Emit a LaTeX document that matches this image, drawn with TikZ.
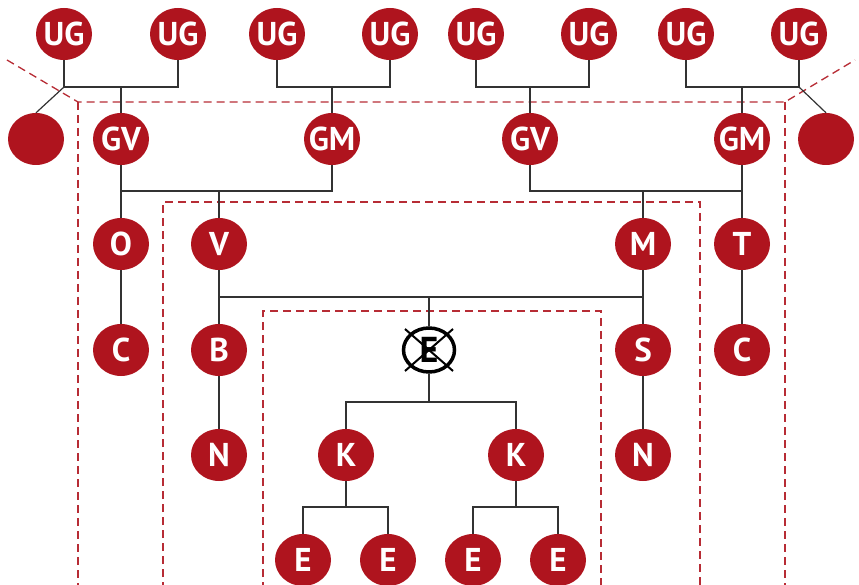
\documentclass[tikz,border=0pt]{standalone}
\usepackage{fontspec}
\setmainfont{PT Sans}
\usetikzlibrary{shapes.geometric}
\definecolor{kred}{RGB}{175,20,30}
\definecolor{kline}{RGB}{50,50,50}
\tikzset{
  x=1pt,y=-1pt,
  fixw/.style={execute at begin node={\hbox to 0pt\bgroup\hss},execute at end node={\hss\egroup}},
  pers/.style={ellipse,fill=kred,minimum width=56pt,minimum height=52pt,inner sep=0pt,
    text=white,font=\fontsize{33}{33}\selectfont\bfseries,fixw},
  conn/.style={draw=kline,line width=1.2pt},
  dline/.style={draw=kred!90!white,line width=1.3pt,dash pattern=on 8pt off 5pt},
  xcirc/.style={ellipse,draw=black,line width=3.5pt,minimum width=51pt,minimum height=44pt,inner sep=0pt,
    text=black,font=\fontsize{36}{36}\selectfont\bfseries,fixw},
}
\begin{document}
\begin{tikzpicture}
\useasboundingbox (0,0) rectangle (859,585);
% dashed frames
\draw[dline] (7,60) -- (78,102) -- (785,102) -- (855,60);
\draw[dline] (78,102) -- (78,590);
\draw[dline] (785,102) -- (785,590);
\draw[dline] (163,590) -- (163,202) -- (700,202) -- (700,590);
\draw[dline] (263,590) -- (263,311) -- (601,311) -- (601,590);
% row 1
\node[pers] (ug1) at (64,34) {UG};
\node[pers] (ug2) at (178,34) {UG};
\node[pers] (ug3) at (277,34) {UG};
\node[pers] (ug4) at (390,34) {UG};
\node[pers] (ug5) at (476,34) {UG};
\node[pers] (ug6) at (589,34) {UG};
\node[pers] (ug7) at (686,34) {UG};
\node[pers] (ug8) at (799,34) {UG};
% row 2
\node[pers] (bl1) at (36,139) {};
\node[pers] (gv1) at (121,139) {GV};
\node[pers] (gm1) at (332,139) {GM};
\node[pers] (gv2) at (530,139) {GV};
\node[pers] (gm2) at (742,139) {GM};
\node[pers] (bl2) at (826,139) {};
% row 3
\node[pers] (o1) at (121,244) {O};
\node[pers] (v1) at (219,244) {V};
\node[pers] (m1) at (643,244) {M};
\node[pers] (t1) at (742,244) {T};
% row 4
\node[pers] (c1) at (121,350) {C};
\node[pers] (b1) at (219,350) {B};
\node[xcirc] (xe) at (429,350) {E};
\node[pers] (s1) at (643,350) {S};
\node[pers] (c2) at (742,350) {C};
% row 5
\node[pers] (n1) at (219,455) {N};
\node[pers] (k1) at (346,455) {K};
\node[pers] (k2) at (516,455) {K};
\node[pers] (n2) at (643,455) {N};
% row 6
\node[pers] (e1) at (303,560) {E};
\node[pers] (e2) at (388,560) {E};
\node[pers] (e3) at (473,560) {E};
\node[pers] (e4) at (558,560) {E};
% cross on E
\draw[black,line width=2pt] ([shift={(-24,-21)}]xe.center) -- ([shift={(24,21)}]xe.center);
\draw[black,line width=2pt] ([shift={(24,-21)}]xe.center) -- ([shift={(-24,21)}]xe.center);
% junctions
\coordinate (j1) at (121,87);
\coordinate (j2) at (332,87);
\coordinate (j3) at (530,87);
\coordinate (j4) at (742,87);
\coordinate (d1) at (64,87);
\coordinate (d2) at (799,87);
\coordinate (j5) at (219,191);
\coordinate (j6) at (643,191);
\coordinate (j7) at (429,297);
\coordinate (j8) at (429,402);
\coordinate (j9) at (346,507);
\coordinate (j10) at (516,507);
% connectors
\draw[conn] (ug1) |- (j1) -| (ug2);
\draw[conn] (j1) -- (gv1);
\draw[conn] (d1) -- (bl1.north);
\draw[conn] (ug3) |- (j2) -| (ug4);
\draw[conn] (j2) -- (gm1);
\draw[conn] (ug5) |- (j3) -| (ug6);
\draw[conn] (j3) -- (gv2);
\draw[conn] (ug7) |- (j4) -| (ug8);
\draw[conn] (j4) -- (gm2);
\draw[conn] (d2) -- (bl2.north);
\draw[conn] (gv1) -- (o1);
\draw[conn] (o1) -- (c1);
\draw[conn] (gm1) |- (gv1 |- j5);
\draw[conn] (j5) -- (v1);
\draw[conn] (gm2) -- (t1);
\draw[conn] (t1) -- (c2);
\draw[conn] (gv2) |- (gm2 |- j6);
\draw[conn] (j6) -- (m1);
\draw[conn] (v1) -- (b1);
\draw[conn] (b1) -- (n1);
\draw[conn] (m1) -- (s1);
\draw[conn] (s1) -- (n2);
\draw[conn] (v1 |- j7) -- (m1 |- j7);
\draw[conn] (j7) -- (xe);
\draw[conn] (xe) -- (j8);
\draw[conn] (k1) |- (j8) -| (k2);
\draw[conn] (k1) -- (j9);
\draw[conn] (e1) |- (j9) -| (e2);
\draw[conn] (k2) -- (j10);
\draw[conn] (e3) |- (j10) -| (e4);
\end{tikzpicture}
\end{document}
